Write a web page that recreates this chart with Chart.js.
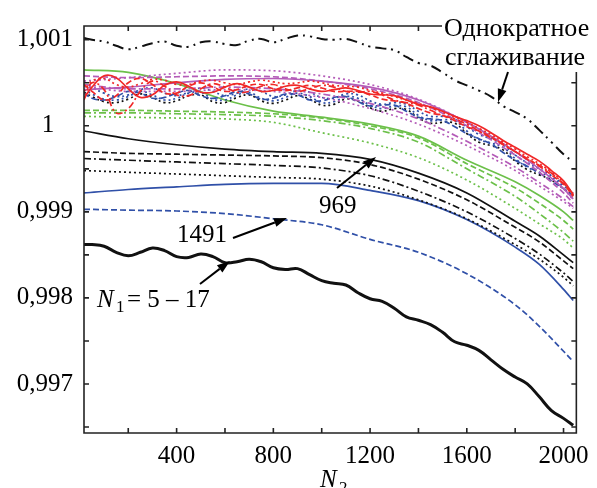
<!DOCTYPE html>
<html>
<head>
<meta charset="utf-8">
<script src="https://cdn.jsdelivr.net/npm/chart.js@4"></script>
<style>
  body { margin: 0; background: #fff; }
  canvas { display: block; }
</style>
</head>
<body>
<canvas id="chart" width="597" height="488"></canvas>
<script>
// N2 grids
const N2_fine = [17,50,100,150,200,250,300,350,400,450,500,550,600,650,700,750,800,850,900,950,
  1000,1050,1100,1150,1200,1250,1300,1350,1400,1450,1500,1550,1600,1650,1700,1750,1800,1850,1900,1950,2000,2040];
const N2_coarse = [17,200,400,600,800,1000,1200,1400,1600,1800,1900,2000,2040];

const xTicks = [200,400,600,800,1000,1200,1400,1600,1800,2000];
const yTicks = [0.9965,0.997,0.9975,0.998,0.9985,0.999,0.9995,1,1.0005,1.001];
const yTickLabels = ['','0,997','','0,998','','0,999','','1   ','','1,001'];

// single smoothing
const single = [1.00102,1.00100,1.00098,1.00093,1.00089,1.00092,1.00096,1.00098,1.00093,1.00092,
  1.00097,1.00098,1.00095,1.00094,1.00099,1.00101,1.00097,1.00101,1.00105,1.00104,
  1.00101,1.00100,1.00101,1.00097,1.00092,1.00090,1.00088,1.00080,1.00073,1.00070,
  1.00062,1.00053,1.00047,1.00041,1.00034,1.00023,1.00016,1.00008,0.99995,0.99981,
  0.99967,0.99958];
// N1 = 5 - 17
const n1_5_17 = [0.99862,0.99862,0.99860,0.99853,0.99849,0.99853,0.99858,0.99855,0.99848,0.99847,
  0.99851,0.99848,0.99841,0.99842,0.99845,0.99842,0.99835,0.99833,0.99834,0.99827,
  0.99820,0.99817,0.99815,0.99806,0.99799,0.99796,0.99788,0.99778,0.99774,0.99769,
  0.99760,0.99749,0.99745,0.99739,0.99728,0.99717,0.99708,0.99700,0.99685,0.99669,
  0.99660,0.99652];

// wavy cluster
const red1 = [1.00032,1.00045,1.00058,1.00056,1.00043,1.00033,1.00036,1.00047,1.00051,1.00046,
  1.00039,1.00039,1.00045,1.00049,1.00045,1.00040,1.00041,1.00046,1.00047,1.00043,
  1.00040,1.00042,1.00044,1.00041,1.00037,1.00036,1.00035,1.00030,1.00025,1.00022,
  1.00017,1.00011,1.00006,1.00000,0.99992,0.99983,0.99975,0.99967,0.99959,0.99948,
  0.99936,0.99920];
const red2 = [1.00048,1.00040,1.00030,1.00035,1.00050,1.00055,1.00048,1.00038,1.00038,1.00046,
  1.00050,1.00045,1.00040,1.00042,1.00047,1.00048,1.00043,1.00041,1.00044,1.00047,
  1.00044,1.00040,1.00040,1.00040,1.00036,1.00031,1.00029,1.00026,1.00020,1.00015,
  1.00012,1.00006,0.99999,0.99994,0.99987,0.99978,0.99970,0.99962,0.99953,0.99943,
  0.99932,0.99918];
const red3 = [1.00030,1.00050,1.00042,1.00015,1.00020,1.00040,1.00052,1.00046,1.00036,1.00035,
  1.00043,1.00049,1.00045,1.00039,1.00040,1.00046,1.00048,1.00043,1.00040,1.00043,
  1.00047,1.00045,1.00040,1.00039,1.00040,1.00036,1.00030,1.00027,1.00024,1.00018,
  1.00012,1.00008,1.00002,0.99994,0.99986,0.99979,0.99970,0.99961,0.99954,0.99945,
  0.99933,0.99921];
const red4 = [1.00040,1.00052,1.00055,1.00048,1.00045,1.00049,1.00054,1.00053,1.00048,1.00048,
  1.00052,1.00053,1.00050,1.00048,1.00051,1.00053,1.00051,1.00049,1.00050,1.00052,
  1.00050,1.00047,1.00046,1.00045,1.00041,1.00038,1.00034,1.00030,1.00026,1.00021,
  1.00016,1.00010,1.00004,0.99997,0.99990,0.99981,0.99973,0.99964,0.99956,0.99946,
  0.99934,0.99919];
const blue1 = [1.00042,1.00037,1.00031,1.00030,1.00034,1.00040,1.00036,1.00030,1.00032,1.00038,
  1.00039,1.00031,1.00030,1.00036,1.00039,1.00032,1.00029,1.00033,1.00038,1.00034,
  1.00027,1.00028,1.00034,1.00032,1.00024,1.00020,1.00023,1.00022,1.00012,1.00006,
  1.00007,1.00006,0.99994,0.99984,0.99980,0.99975,0.99962,0.99952,0.99946,0.99940,
  0.99930,0.99922];
const blue2 = [1.00046,1.00044,1.00038,1.00034,1.00036,1.00042,1.00044,1.00038,1.00035,1.00039,
  1.00044,1.00040,1.00035,1.00038,1.00043,1.00040,1.00034,1.00036,1.00041,1.00039,
  1.00033,1.00032,1.00037,1.00036,1.00029,1.00025,1.00027,1.00025,1.00017,1.00011,
  1.00011,1.00008,0.99999,0.99990,0.99985,0.99978,0.99966,0.99957,0.99950,0.99942,
  0.99932,0.99922];
const blue3 = [1.00038,1.00032,1.00030,1.00034,1.00040,1.00038,1.00032,1.00033,1.00038,1.00041,
  1.00035,1.00032,1.00035,1.00040,1.00037,1.00031,1.00032,1.00037,1.00036,1.00030,
  1.00029,1.00033,1.00034,1.00028,1.00023,1.00024,1.00024,1.00017,1.00010,1.00008,
  1.00006,0.99999,0.99991,0.99985,0.99979,0.99969,0.99960,0.99953,0.99945,0.99936,
  0.99927,0.99919];
const black5 = [1.00039,1.00034,1.00028,1.00027,1.00031,1.00037,1.00033,1.00027,1.00029,1.00035,
  1.00036,1.00028,1.00027,1.00033,1.00036,1.00029,1.00026,1.00030,1.00035,1.00031,
  1.00024,1.00025,1.00031,1.00029,1.00021,1.00017,1.00020,1.00019,1.00009,1.00003,
  1.00004,1.00003,0.99991,0.99981,0.99977,0.99972,0.99959,0.99949,0.99943,0.99937,
  0.99927,0.99919];

// smooth curves (coarse grid)
const magenta1 = [1.00052,1.00056,1.00061,1.00065,1.00064,1.00058,1.00048,1.00031,1.00004,0.99970,0.99950,0.99927,0.99914];
const magenta2 = [1.00058,1.00056,1.00057,1.00058,1.00057,1.00052,1.00043,1.00027,1.00000,0.99966,0.99946,0.99922,0.99910];
const magenta3 = [1.00042,1.00045,1.00050,1.00054,1.00055,1.00052,1.00045,1.00030,1.00004,0.99970,0.99950,0.99927,0.99915];
const magenta4 = [1.00046,1.00040,1.00040,1.00042,1.00040,1.00033,1.00020,1.00002,0.99977,0.99948,0.99930,0.99912,0.99904];
const magenta5 = [1.00048,1.00043,1.00043,1.00045,1.00043,1.00037,1.00026,1.00008,0.99982,0.99952,0.99934,0.99915,0.99906];
const green1 = [1.00065,1.00062,1.00049,1.00030,1.00017,1.00010,1.00002,0.99988,0.99960,0.99935,0.99919,0.99900,0.99890];
const green2 = [1.00018,1.00018,1.00017,1.00016,1.00014,1.00009,1.00000,0.99986,0.99956,0.99928,0.99910,0.99890,0.99880];
const green3 = [1.00015,1.00015,1.00014,1.00013,1.00011,1.00006,0.99997,0.99981,0.99950,0.99918,0.99898,0.99876,0.99866];
const green4 = [1.00011,1.00010,1.00009,1.00008,1.00004,0.99992,0.99980,0.99963,0.99937,0.99904,0.99886,0.99868,0.99858];
const black1 = [0.99994,0.99985,0.99978,0.99973,0.99970,0.99968,0.99961,0.99945,0.99922,0.99889,0.99872,0.99850,0.99841];
const black2 = [0.99970,0.99968,0.99967,0.99966,0.99965,0.99963,0.99955,0.99938,0.99914,0.99882,0.99865,0.99843,0.99834];
const black3 = [0.99962,0.99960,0.99958,0.99956,0.99954,0.99951,0.99942,0.99924,0.99900,0.99869,0.99851,0.99829,0.99819];
const black4 = [0.99948,0.99946,0.99944,0.99942,0.99940,0.99938,0.99930,0.99914,0.99892,0.99862,0.99845,0.99824,0.99814];
const blueSolid = [0.99922,0.99926,0.99929,0.99932,0.99933,0.99933,0.99925,0.99913,0.99891,0.99859,0.99839,0.99810,0.99797];
const blueDash = [0.99903,0.99902,0.99901,0.99898,0.99892,0.99885,0.99868,0.99853,0.99828,0.99792,0.99767,0.99738,0.99726];

const BLACK = '#111', BLUE = '#3050a8', GREEN = '#6cc04a', MAGENTA = '#b45cb8', RED = '#f02828';
const SOLID = [], DASH = [6,3], DASHDOT = [7,3,2,3], DOT = [2,3];

function wavy(ys, color, dash, width) {
  return { data: ys.map((y, i) => ({x: N2_fine[i], y})), borderColor: color, borderDash: dash,
    borderWidth: width || 1.7, pointRadius: 0, tension: 0.4, fill: false };
}
function smooth(ys, color, dash, width) {
  return { data: ys.map((y, i) => ({x: N2_coarse[i], y})), borderColor: color, borderDash: dash,
    borderWidth: width || 1.7, pointRadius: 0, cubicInterpolationMode: 'monotone', fill: false };
}

const datasets = [
  wavy(red1, RED, SOLID), wavy(red2, RED, DASH), wavy(red3, RED, DASHDOT), wavy(red4, RED, DOT),
  smooth(magenta1, MAGENTA, DOT), smooth(magenta2, MAGENTA, DASH), smooth(magenta3, MAGENTA, SOLID),
  smooth(magenta4, MAGENTA, DOT), smooth(magenta5, MAGENTA, DASHDOT),
  wavy(blue2, BLUE, DOT), wavy(blue3, BLUE, DASH), wavy(blue1, BLUE, DOT), wavy(black5, BLACK, DOT),
  smooth(green1, GREEN, SOLID), smooth(green2, GREEN, DASH), smooth(green3, GREEN, DASHDOT), smooth(green4, GREEN, DOT),
  smooth(black1, BLACK, SOLID), smooth(black2, BLACK, DASH), smooth(black3, BLACK, DASHDOT), smooth(black4, BLACK, DOT),
  smooth(blueSolid, BLUE, SOLID), smooth(blueDash, BLUE, DASH),
  wavy(single, BLACK, [11,5,2,5,2,5], 2),
  wavy(n1_5_17, BLACK, SOLID, 3)
];

const FONT = '"Liberation Serif", "Times New Roman", serif';

function arrow(ctx, x1, y1, x2, y2) {
  const a = Math.atan2(y2 - y1, x2 - x1), L = 13, W = 4.5;
  const bx = x2 - L * Math.cos(a), by = y2 - L * Math.sin(a);
  ctx.beginPath();
  ctx.moveTo(x1, y1); ctx.lineTo(bx, by);
  ctx.lineWidth = 2; ctx.strokeStyle = '#000'; ctx.stroke();
  ctx.beginPath();
  ctx.moveTo(x2, y2);
  ctx.lineTo(bx + W * Math.sin(a), by - W * Math.cos(a));
  ctx.lineTo(bx - W * Math.sin(a), by + W * Math.cos(a));
  ctx.closePath(); ctx.fillStyle = '#000'; ctx.fill();
}

const frame = {
  id: 'frame',
  afterDraw(chart) {
    const ctx = chart.ctx, a = chart.chartArea;
    const xs = chart.scales.x, ys = chart.scales.y;
    const topEnd = 442, rightStart = 72, t = 5;
    ctx.save();
    ctx.strokeStyle = '#222'; ctx.lineWidth = 1.6; ctx.setLineDash([]);
    ctx.beginPath();
    ctx.moveTo(topEnd, a.top); ctx.lineTo(a.left, a.top); ctx.lineTo(a.left, a.bottom);
    ctx.lineTo(a.right, a.bottom); ctx.lineTo(a.right, rightStart);
    for (const v of xTicks) {
      const p = xs.getPixelForValue(v);
      ctx.moveTo(p, a.bottom); ctx.lineTo(p, a.bottom - t);
      if (p < topEnd) { ctx.moveTo(p, a.top); ctx.lineTo(p, a.top + t); }
    }
    for (const v of yTicks) {
      const p = ys.getPixelForValue(v);
      ctx.moveTo(a.left, p); ctx.lineTo(a.left + t, p);
      if (p > rightStart) { ctx.moveTo(a.right, p); ctx.lineTo(a.right - t, p); }
    }
    ctx.stroke();

    ctx.fillStyle = '#000';
    ctx.textBaseline = 'alphabetic'; ctx.textAlign = 'left';
    ctx.font = '26px ' + FONT;
    ctx.fillText('Однократное', 444, 36);
    ctx.fillText('сглаживание', 445, 65);
    ctx.font = '25px ' + FONT;
    ctx.fillText('969', 319, 213);
    ctx.fillText('1491', 177, 242);
    ctx.font = 'italic 25px ' + FONT;
    ctx.fillText('N', 97, 307);
    ctx.fillText('N', 320, 487);
    ctx.font = '17px ' + FONT;
    ctx.fillText('1', 116, 312);
    ctx.fillText('2', 339, 493);
    ctx.font = '25px ' + FONT;
    ctx.fillText('= 5 \u2013 17', 127, 307);

    arrow(ctx, 337, 188, 376, 157);
    arrow(ctx, 233, 238, 287, 218);
    arrow(ctx, 200, 284, 230, 261);
    arrow(ctx, 508, 72, 498, 102);
    ctx.restore();
  }
};

new Chart(document.getElementById('chart'), {
  type: 'line',
  data: { datasets },
  options: {
    responsive: false,
    animation: false,
    devicePixelRatio: 1,
    layout: { padding: { top: 24, right: 18, left: 0, bottom: 0 } },
    plugins: { legend: { display: false }, tooltip: { enabled: false } },
    scales: {
      x: {
        type: 'linear', min: 17, max: 2053,
        grid: { display: false, drawTicks: false },
        border: { display: false },
        afterBuildTicks: s => { s.ticks = xTicks.map(v => ({value: v})); },
        afterFit: s => { s.height = 55; },
        ticks: {
          autoSkip: false, maxRotation: 0, padding: 8, color: '#000',
          font: { family: FONT, size: 25 },
          callback: v => (v % 400 === 0 ? String(v) : '')
        }
      },
      y: {
        type: 'linear', min: 0.99643, max: 1.00116,
        grid: { display: false, drawTicks: false },
        border: { display: false },
        afterBuildTicks: s => { s.ticks = yTicks.map(v => ({value: v})); },
        afterFit: s => { s.width = 84; },
        ticks: {
          autoSkip: false, padding: 11, color: '#000',
          font: { family: FONT, size: 25 },
          callback: (v, i) => yTickLabels[i]
        }
      }
    }
  },
  plugins: [frame]
});
</script>
</body>
</html>
